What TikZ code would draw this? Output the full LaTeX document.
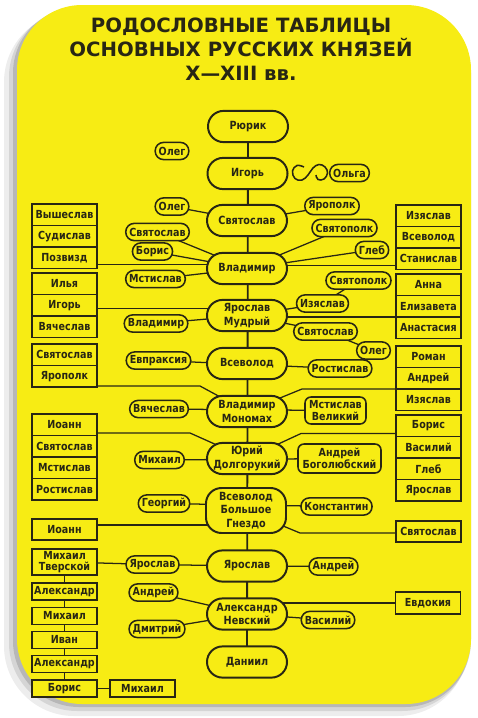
\documentclass[tikz,border=0pt]{standalone}
\usepackage{fontspec}
\setmainfont{DejaVu Sans}
\newfontfamily\namefont{DejaVu Sans}[FakeStretch=0.86]
\usetikzlibrary{calc}
\definecolor{cardyellow}{RGB}{247,236,20}
\definecolor{ink}{RGB}{40,38,20}
\pgfdeclarelayer{back}
\pgfdeclarelayer{links}
\pgfsetlayers{back,links,main}

\begin{document}
\begin{tikzpicture}[x=0.025cm,y=-0.025cm,
  prince/.style={draw=ink,line width=1.4pt,fill=cardyellow,rounded corners=0.39cm,
    minimum width=2cm,minimum height=0.78cm,align=center,inner sep=1pt,text=ink,
    font=\namefont\bfseries\fontsize{8}{9.4}\selectfont},
  son/.style={draw=ink,line width=1.1pt,fill=cardyellow,rounded corners=0.21cm,
    minimum height=0.43cm,inner xsep=2.5pt,inner ysep=1pt,text=ink,
    font=\namefont\bfseries\fontsize{7.9}{9}\selectfont},
  heir/.style={draw=ink,line width=1.1pt,fill=cardyellow,rounded corners=0.15cm,
    align=center,inner sep=1pt,text=ink,font=\namefont\bfseries\fontsize{7.9}{8.6}\selectfont},
  kin/.style={draw=ink,line width=1.3pt,fill=cardyellow,minimum width=1.625cm,
    minimum height=0.5375cm,outer sep=0pt,inner sep=1pt,align=center,text=ink,
    font=\namefont\bfseries\fontsize{7.9}{8.5}\selectfont},
  link/.style={draw=ink,line width=0.9pt}]
\useasboundingbox (0,0) rectangle (478,718);

% card and its shadow
\begin{pgfonlayer}{back}
  \fill[black,opacity=0.07,rounded corners=1.75cm] (4,12) rectangle (468,716);
  \fill[black,opacity=0.10,rounded corners=1.7cm] (9,9) rectangle (470,711);
  \fill[black,opacity=0.14,rounded corners=1.65cm] (13,7) rectangle (471,707);
  \fill[cardyellow,rounded corners=1.625cm] (17,5) rectangle (471,704);
\end{pgfonlayer}

\node[text=ink,align=center,font=\bfseries\fontsize{14}{17}\selectfont] (title) at (241,49)
  {РОДОСЛОВНЫЕ ТАБЛИЦЫ\\ОСНОВНЫХ РУССКИХ КНЯЗЕЙ\\X—XIII вв.};

% main line
\node[prince] (rurik) at (248,126.5) {Рюрик};
\node[prince] (igor) at (247.5,173.5) {Игорь};
\node[prince] (svyatoslav) at (247,220.5) {Святослав};
\node[prince] (vladimir) at (247,268.5) {Владимир};
\node[prince] (yaroslav) at (247,315.5) {Ярослав\\Мудрый};
\node[prince] (vsevolod) at (247,363.5) {Всеволод};
\node[prince] (monomakh) at (247,411.5) {Владимир\\Мономах};
\node[prince] (yury) at (247,458.5) {Юрий\\Долгорукий};
\node[prince,minimum height=1.125cm] (gnezdo) at (246,510.5) {Всеволод\\Большое\\Гнездо};
\node[prince] (yaroslavII) at (247,566) {Ярослав};
\node[prince] (nevsky) at (247,614) {Александр\\Невский};
\node[prince] (daniil) at (247,662) {Даниил};

% sons
\node[son] (oleg) at (172,151) {Олег};
\node[son] (olga) at (349.5,173) {Ольга};
\node[son] (olegI) at (172,206.5) {Олег};
\node[son] (yaropolk) at (332,206) {Ярополк};
\node[son] (svyatoslavV) at (157.5,232) {Святослав};
\node[son] (boris) at (152.5,251.5) {Борис};
\node[son] (mstislav) at (155.5,279) {Мстислав};
\node[son] (svyatopolk) at (344.5,228) {Святополк};
\node[son] (gleb) at (372,250) {Глеб};
\node[son] (vladimirY) at (156,323.5) {Владимир};
\node[son] (svyatopolkI) at (358.5,280.5) {Святополк};
\node[son] (izyaslav) at (322.5,303.5) {Изяслав};
\node[son] (svyatoslavY) at (325.5,331.5) {Святослав};
\node[son] (olegS) at (373.5,350.5) {Олег};
\node[son] (evpraksiya) at (158.5,360.5) {Евпраксия};
\node[son] (rostislav) at (340,368.5) {Ростислав};
\node[son] (vyacheslav) at (159,409) {Вячеслав};
\node[heir,minimum width=1.525cm,minimum height=0.675cm] (mstislavM) at (335.5,410.5) {Мстислав\\Великий};
\node[son] (mikhail) at (159.5,460) {Михаил};
\node[heir,minimum width=2.075cm,minimum height=0.725cm] (bogolyubsky) at (339.5,458.5) {Андрей\\Боголюбский};
\node[son] (georgy) at (164,503.5) {Георгий};
\node[son] (konstantin) at (336.5,506.5) {Константин};
\node[son] (yaroslavT) at (152.5,564.5) {Ярослав};
\node[son] (andreyY) at (333.5,566.5) {Андрей};
\node[son] (andreyN) at (153.5,592.5) {Андрей};
\node[son] (dmitry) at (157,629) {Дмитрий};
\node[son] (vasily) at (328,620) {Василий};

% daughters and younger sons in boxes
\node[kin] (vysheslav) at (64.5,214.75) {Вышеслав};
\node[kin] (sudislav) at (64.5,236.25) {Судислав};
\node[kin] (pozvizd) at (64.5,257.75) {Позвизд};
\node[kin] (izyaslavV) at (428.5,215.75) {Изяслав};
\node[kin] (vsevolodV) at (428.5,237.25) {Всеволод};
\node[kin] (stanislav) at (428.5,258.75) {Станислав};
\node[kin] (ilya) at (64.5,283.75) {Илья};
\node[kin] (igorY) at (64.5,305.25) {Игорь};
\node[kin] (vyacheslavY) at (64.5,326.75) {Вячеслав};
\node[kin] (anna) at (428.5,284.75) {Анна};
\node[kin] (elizaveta) at (428.5,306.25) {Елизавета};
\node[kin] (anastasiya) at (428.5,327.75) {Анастасия};
\node[kin] (svyatoslavVs) at (64.5,354.75) {Святослав};
\node[kin] (yaropolkVs) at (64.5,376.25) {Ярополк};
\node[kin] (roman) at (428.5,356.75) {Роман};
\node[kin] (andreyM) at (428.5,378.25) {Андрей};
\node[kin] (izyaslavM) at (428.5,399.75) {Изяслав};
\node[kin] (ioannYu) at (64.5,424.75) {Иоанн};
\node[kin] (svyatoslavYu) at (64.5,446.25) {Святослав};
\node[kin] (mstislavYu) at (64.5,467.75) {Мстислав};
\node[kin] (rostislavYu) at (64.5,489.25) {Ростислав};
\node[kin] (borisYu) at (428.5,425.75) {Борис};
\node[kin] (vasilyYu) at (428.5,447.25) {Василий};
\node[kin] (glebYu) at (428.5,468.75) {Глеб};
\node[kin] (yaroslavYu) at (428.5,490.25) {Ярослав};
\node[kin] (ioannG) at (64.5,529.5) {Иоанн};
\node[kin] (svyatoslavG) at (428.5,531.5) {Святослав};
\node[kin,minimum height=0.65cm,font=\namefont\bfseries\fontsize{7.9}{8.2}\selectfont] (tverskoy) at (64.5,562) {Михаил\\Тверской};
\node[kin,minimum height=0.425cm] (aleksandrT) at (64.5,591.5) {Александр};
\node[kin,minimum height=0.425cm] (mikhailT) at (64.5,616) {Михаил};
\node[kin,minimum height=0.425cm] (ivan) at (64.5,640) {Иван};
\node[kin,minimum height=0.425cm] (aleksandrI) at (64.5,664) {Александр};
\node[kin,minimum height=0.425cm] (borisI) at (64.5,688.5) {Борис};
\node[kin,minimum height=0.425cm] (mikhailB) at (142.5,688.5) {Михаил};
\node[kin,minimum height=0.55cm] (evdokiya) at (428,603) {Евдокия};

\begin{pgfonlayer}{links}
  \draw[link,line width=1.3pt] (rurik.center) -- (daniil.center);
  \draw[link,line width=1.1pt] plot[smooth,tension=0.7] coordinates
    {(304,167) (297,165.5) (292.5,171) (295,178.5) (302,180) (308,175) (313,168)
     (319,164.5) (325,167) (327.5,173) (324,179) (318,179.5) (316,175)};
  \draw[link] (olegI.center) -- (svyatoslav.center) -- (yaropolk.center);
  \draw[link] (svyatoslavV.center) -- (vladimir.center);
  \draw[link] (boris.center) -- (vladimir.center);
  \draw[link] (mstislav.center) -- (vladimir.center);
  \draw[link] (svyatopolk.center) -- (vladimir.center);
  \draw[link] (gleb.center) -- (vladimir.center);
  \draw[link] ($(pozvizd.south east)+(0,-4)$) coordinate (vl) -- (vl -| vladimir.center);
  \draw[link] ($(stanislav.south west)+(0,-4)$) coordinate (vr) -- (vr -| vladimir.center);
  \draw[link] (vladimirY.center) -- (yaroslav.center);
  \draw[link] (svyatopolkI.center) -- (izyaslav.center) -- (yaroslav.center);
  \draw[link] (olegS.center) -- (svyatoslavY.center) -- (yaroslav.center);
  \draw[link] ($(igorY.east)+(0,3)$) coordinate (yl) -- (yl -| yaroslav.center);
  \draw[link] (elizaveta.south west) -- (elizaveta.south west -| yaroslav.center);
  \draw[link] (evpraksiya.center) -- (rostislav.center);
  \draw[link] (vyacheslav.center) -- (mstislavM.center);
  \draw[link] ($(yaropolkVs.south east)+(0,-1)$) -- ++(103,0) -- (monomakh.center);
  \draw[link] (andreyM.south west) -- ++(-94,0) -- (monomakh.center);
  \draw[link] (mikhail.center) -- (bogolyubsky.center);
  \draw[link] ($(ioannYu.south east)+(0,-2.5)$) -- ++(93,0) -- (yury.center);
  \draw[link] ($(borisYu.south west)+(0,-3)$) -- ++(-95,0) -- (yury.center);
  \draw[link] (georgy.center) -- (konstantin.center);
  \draw[link] ($(ioannG.east)+(0,-4.5)$) coordinate (gl) -- (gl -| gnezdo.center);
  \draw[link] ($(svyatoslavG.west)+(0,1.5)$) -- ++(-96,0) -- (gnezdo.center);
  \draw[link] (tverskoy.center) -- (yaroslavT.center) -- (yaroslavII.center) -- (andreyY.center);
  \draw[link] (andreyN.center) -- (nevsky.center);
  \draw[link] (dmitry.center) -- (nevsky.center);
  \draw[link] (vasily.center) -- (nevsky.center);
  \draw[link] (evdokiya.west) -- (evdokiya.west -| nevsky.center);
  \draw[link] (tverskoy.center) -- (borisI.center) -- (mikhailB.center);
\end{pgfonlayer}
\end{tikzpicture}
\end{document}
